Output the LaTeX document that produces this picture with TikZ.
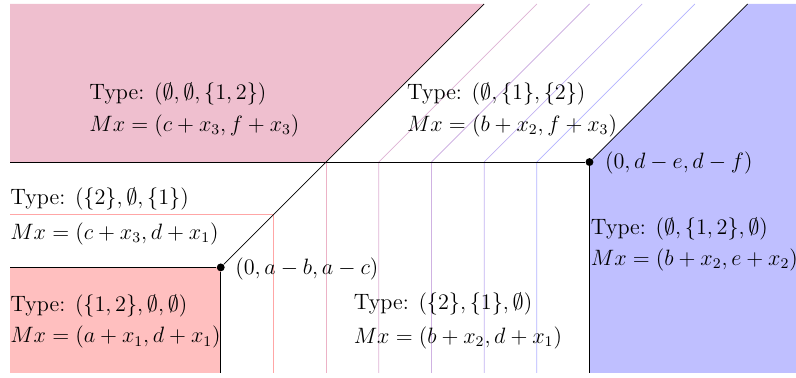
\documentclass[tikz,border=0pt,12pt]{standalone}
\usepackage{amsmath, amssymb}
\usepackage{tikz}

\begin{document}
\begin{tikzpicture}[
  lbl/.style={anchor=base west, inner sep=0pt},
  vertex/.style={circle, fill=black, inner sep=0pt, minimum size=1.5mm},
]
\useasboundingbox (-4.19,-2.095) rectangle (10.92,5.076);

% Regions
\fill[purple!25] (-4,2) -- (2,2) -- (5,5) -- (-4,5) -- cycle;
\fill[red!25] (-4,0) -- (0,0) -- (0,-2) -- (-4,-2) -- cycle;
\fill[blue!25] (7,-2) -- (7,2) -- (10,5) -- (10.92,5) -- (10.92,-2) -- cycle;

% Coloured rays
\draw[red!35] (-4,1) -- (1,1) -- (1,-2);
\draw[purple!30] (2,2) -- (2,-2);
\draw[purple!75!blue!30] (6,5) -- (3,2) -- (3,-2);
\draw[purple!50!blue!30] (7,5) -- (4,2) -- (4,-2);
\draw[purple!25!blue!30] (8,5) -- (5,2) -- (5,-2);
\draw[blue!30] (9,5) -- (6,2) -- (6,-2);

% Vertices
\node[vertex] (p) at (0,0) {};
\node[vertex] (q) at (7,2) {};
\coordinate (c1) at (2,2);

% Black boundaries
\draw (-4,0) -- (p) -- (0,-2);
\draw (p) -- (c1) -- (5,5);
\draw (-4,2) -- (c1) -- (q) -- (7,-2);
\draw (q) -- (10,5);

\node[lbl] (plbl) at (0.27,-0.13) {$(0,a-b,a-c)$};
\node[lbl] (qlbl) at (7.29,1.87) {$(0,d-e,d-f)$};

% Labels
\node[lbl] (t1) at (-2.5,3.19) {Type: $(\emptyset,\emptyset,\{1,2\})$};
\node[lbl] (m1) at (-2.5,2.58) {$Mx=(c+x_3,f+x_3)$};

\node[lbl] (t2) at (3.53,3.19) {Type: $(\emptyset,\{1\},\{2\})$};
\node[lbl] (m2) at (3.53,2.58) {$Mx=(b+x_2,f+x_3)$};

\node[lbl] (t3) at (-4,1.19) {Type: $(\{2\},\emptyset,\{1\})$};
\node[lbl] (m3) at (-4,0.53) {$Mx=(c+x_3,d+x_1)$};

\node[lbl] (t4) at (-4,-0.83) {Type: $(\{1,2\},\emptyset,\emptyset)$};
\node[lbl] (m4) at (-4,-1.43) {$Mx=(a+x_1,d+x_1)$};

\node[lbl] (t5) at (2.52,-0.80) {Type: $(\{2\},\{1\},\emptyset)$};
\node[lbl] (m5) at (2.52,-1.44) {$Mx=(b+x_2,d+x_1)$};

\node[lbl] (t6) at (7.02,0.62) {Type: $(\emptyset,\{1,2\},\emptyset)$};
\node[lbl] (m6) at (7.02,0.04) {$Mx=(b+x_2,e+x_2)$};
\end{tikzpicture}
\end{document}
